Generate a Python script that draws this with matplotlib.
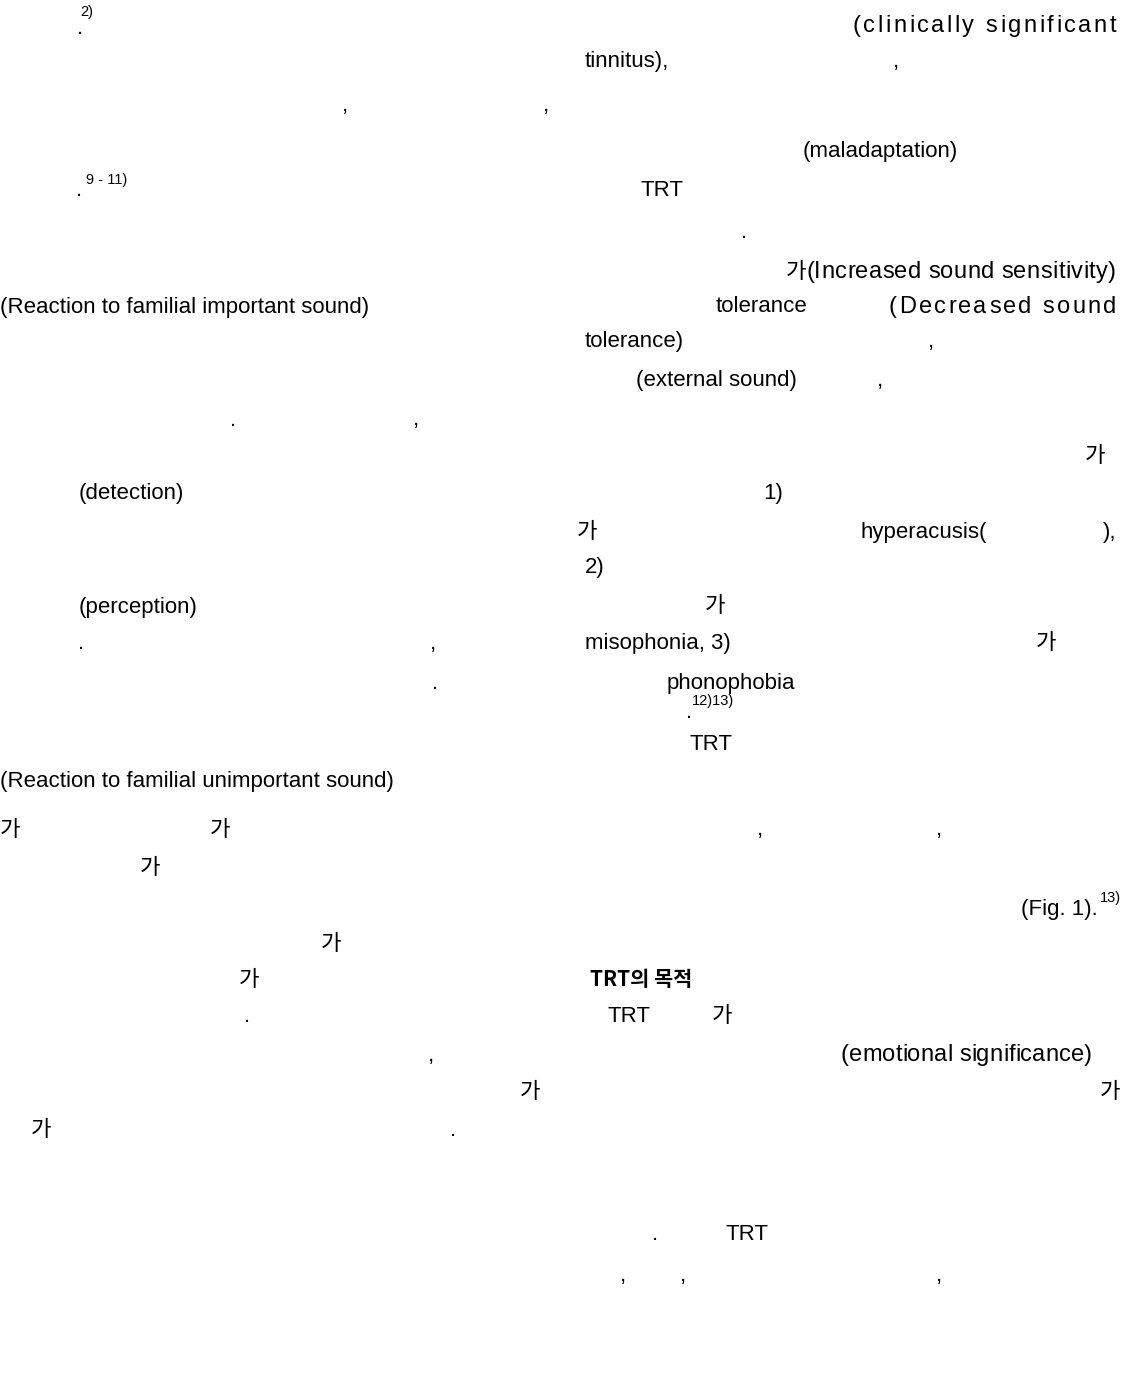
import matplotlib.pyplot as plt

# text pieces that survive on the page (the rest of the hangul is missing)
texts = [
    '.', '2)', '(clinically significant',
    'tinnitus),', ',',
    ',', ',',
    '(maladaptation)',
    '.', '9 - 11)', 'TRT',
    '.',
    '가', '(Increased sound sensitivity)',
    '(Reaction to familial important sound)', 'tolerance', '(Decreased sound',
    'tolerance)', ',',
    '(external sound)', ',',
    '.', ',',
    '가',
    '(detection)', '1)',
    '가', 'hyperacusis(', '),',
    '2)',
    '(perception)', '가',
    '.', ',', 'misophonia, 3)', '가',
    '.', 'phonophobia',
    '12)13)', '.',
    'TRT',
    '(Reaction to familial unimportant sound)',
    '가', '가', ',', ',',
    '가',
    '(Fig. 1).', '13)',
    '가',
    '가', 'TRT의 목적',
    '.', 'TRT', '가',
    ',', '(emotional significance)',
    '가', '가',
    '가', '.',
    '.', 'TRT',
    ',', ',', ',',
]

# layout: x (px), y (px from top), horizontal anchor or right edge for
# justified pieces, kind (n body, j justified body, s superscript, h heading)
W, H = 1124, 1391
layout = [
    (77, 28, 'left', 'n'), (80, 12, 'left', 's'), (853, 26, 1116, 'j'),
    (585, 62, 'left', 'n'), (893, 62, 'left', 'n'),
    (342, 105, 'left', 'n'), (543, 105, 'left', 'n'),
    (803, 152, 'left', 'n'),
    (76, 190, 'left', 'n'), (86, 180, 'left', 's'), (640, 190, 'left', 'n'),
    (741, 232, 'left', 'n'),
    (786, 272, 'left', 'n'), (806, 272, 1116, 'j'),
    (0, 307, 'left', 'n'), (716, 307, 'left', 'n'), (889, 307, 1116, 'j'),
    (585, 342, 'left', 'n'), (928, 342, 'left', 'n'),
    (636, 380, 'left', 'n'), (877, 380, 'left', 'n'),
    (230, 420, 'left', 'n'), (413, 420, 'left', 'n'),
    (1085, 457, 'left', 'n'),
    (79, 494, 'left', 'n'), (763, 494, 'left', 'n'),
    (577, 533, 'left', 'n'), (860, 533, 'left', 'n'), (1116, 533, 'right', 'n'),
    (585, 568, 'left', 'n'),
    (79, 607, 'left', 'n'), (705, 607, 'left', 'n'),
    (78, 643, 'left', 'n'), (430, 643, 'left', 'n'), (585, 643, 'left', 'n'), (1036, 643, 'left', 'n'),
    (432, 683, 'left', 'n'), (667, 683, 'left', 'n'),
    (692, 701, 'left', 's'), (686, 713, 'left', 'n'),
    (690, 745, 'left', 'n'),
    (0, 782, 'left', 'n'),
    (0, 830, 'left', 'n'), (210, 830, 'left', 'n'), (757, 830, 'left', 'n'), (936, 830, 'left', 'n'),
    (140, 868, 'left', 'n'),
    (1098, 910, 'right', 'n'), (1100, 898, 'left', 's'),
    (321, 945, 'left', 'n'),
    (239, 980, 'left', 'n'), (590, 980, 'left', 'h'),
    (244, 1016, 'left', 'n'), (608, 1016, 'left', 'n'), (712, 1016, 'left', 'n'),
    (428, 1055, 'left', 'n'), (841, 1055, 1092, 'j'),
    (520, 1092, 'left', 'n'), (1100, 1092, 'left', 'n'),
    (31, 1130, 'left', 'n'), (450, 1130, 'left', 'n'),
    (652, 1235, 'left', 'n'), (726, 1235, 'left', 'n'),
    (620, 1275, 'left', 'n'), (680, 1275, 'left', 'n'), (936, 1275, 'left', 'n'),
]

fams = ['Liberation Sans', 'Noto Sans CJK KR', 'DejaVu Sans']
body = dict(fontsize=16, family=fams, color='black', va='center')
wide = dict(fontsize=17, family=fams, color='black', va='center')

fig = plt.figure(figsize=(W / 100, H / 100), dpi=100)
fig.patch.set_facecolor('white')
rend = fig.canvas.get_renderer()


def text_w(s, style):
    t = fig.text(0, 0, s, **style)
    w = t.get_window_extent(renderer=rend).width
    t.remove()
    return w


def justified(s, x0, x1, y, style=wide):
    # spread the characters so the piece fills x0..x1 like the typeset line
    base = text_w('||', style)
    adv = [text_w('|' + c + '|', style) - base for c in s]
    extra = max(0, (x1 - x0 - sum(adv)) / (len(s) - 1))
    x = x0
    for c, a in zip(s, adv):
        if c != ' ':
            fig.text(x / W, 1 - y / H, c, ha='left', **style)
        x += a + extra


for t, (x, y, ha, kind) in zip(texts, layout):
    if kind == 'j':
        justified(t, x, ha, y)
    elif kind == 's':
        fig.text(x / W, 1 - y / H, t, ha=ha, va='center', fontsize=10.5,
                 family=fams, color='black')
    elif kind == 'h':
        fig.text(x / W, 1 - y / H, t, ha=ha, va='center', fontsize=15,
                 family=['Noto Sans CJK KR'], fontweight='bold', color='black')
    else:
        fig.text(x / W, 1 - y / H, t, ha=ha, **body)

fig.savefig('out.png', dpi=100, facecolor='white')
